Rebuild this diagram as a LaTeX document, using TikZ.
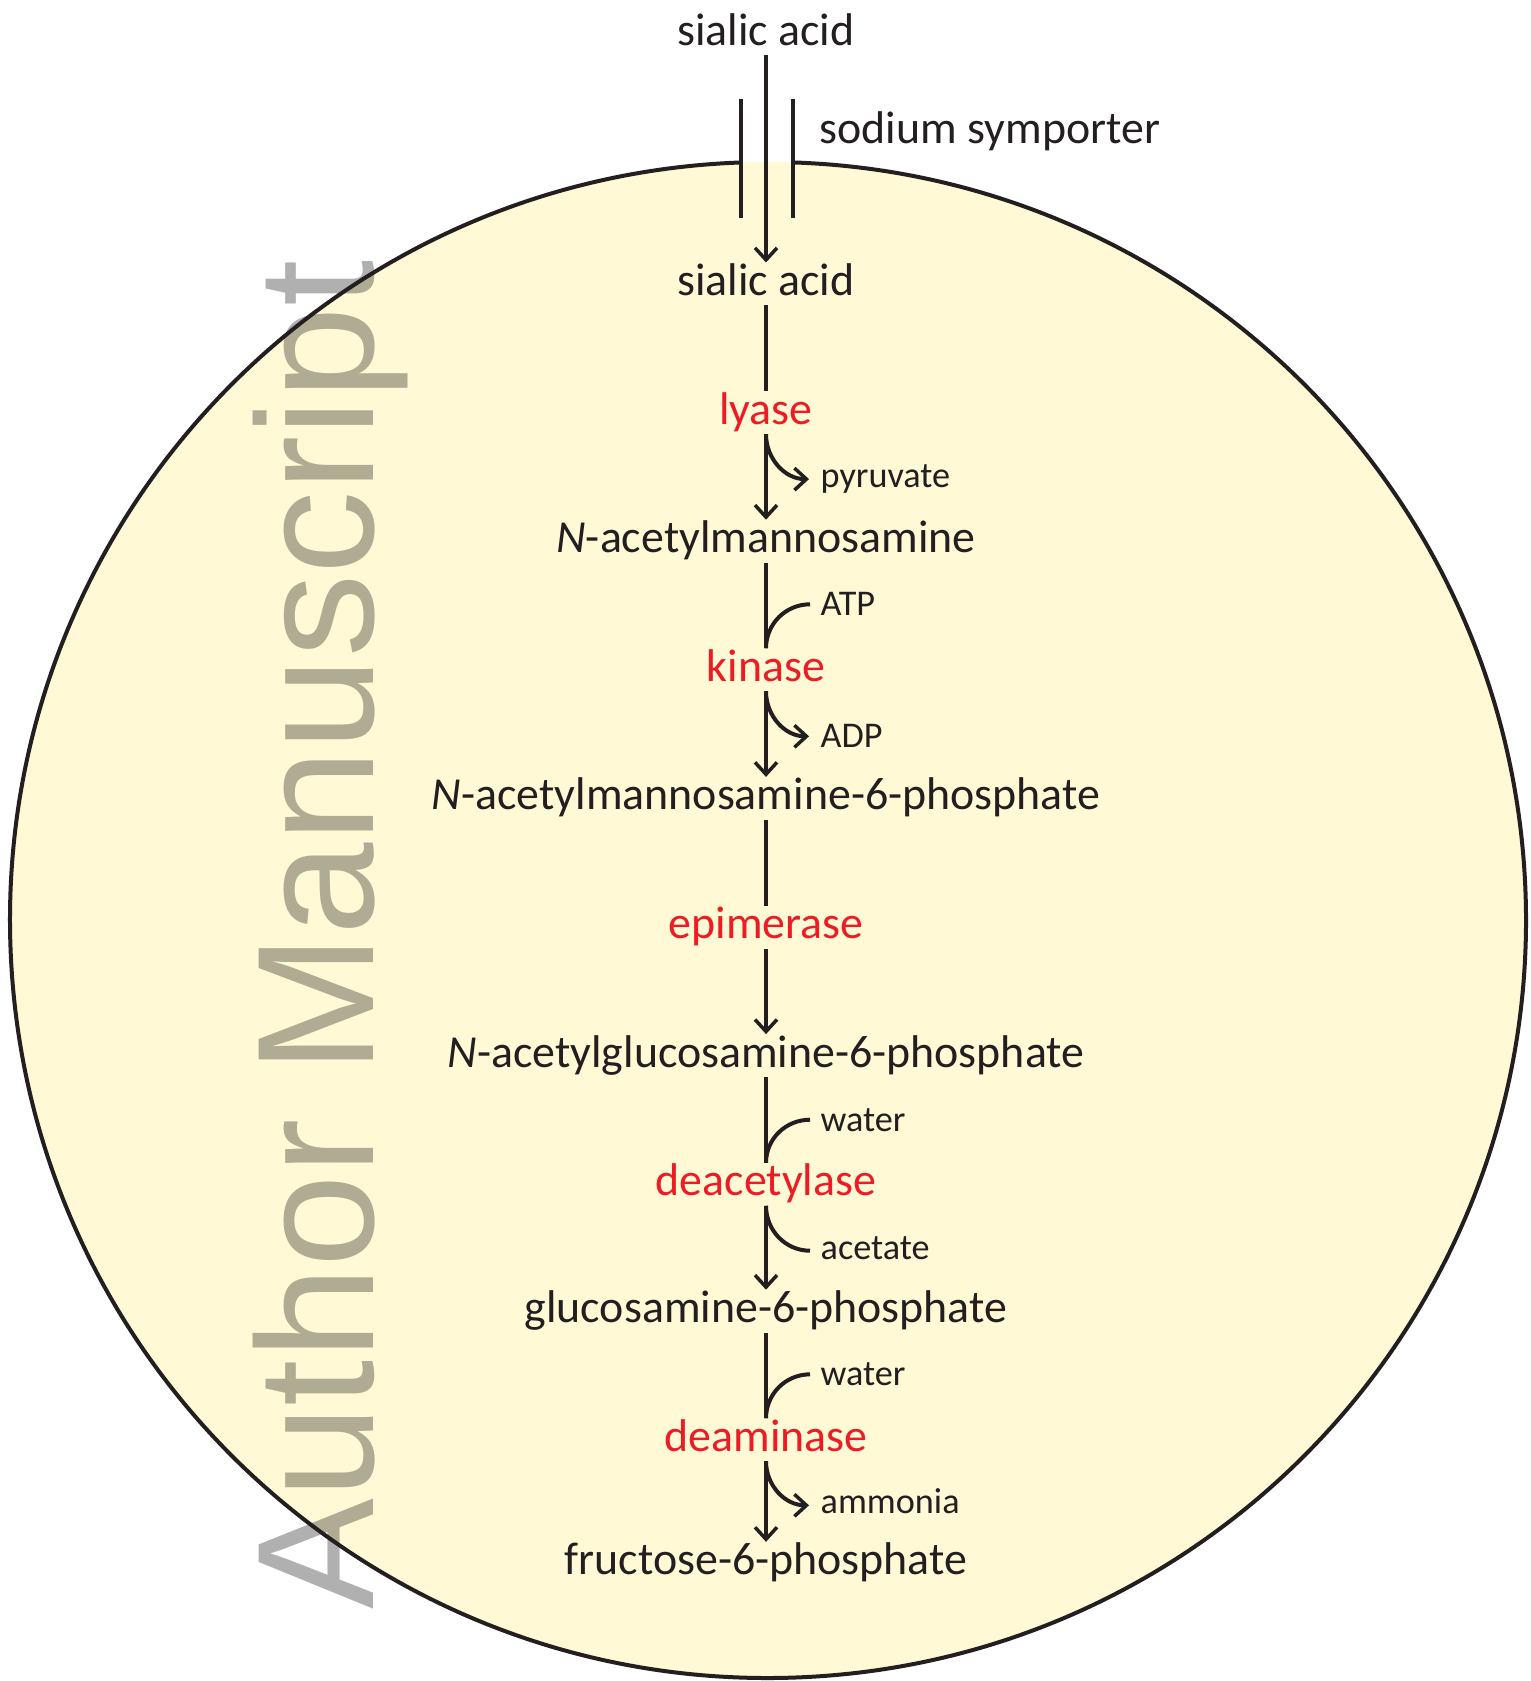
\documentclass[tikz,border=0pt]{standalone}
\usepackage{fontspec}
\setmainfont{Carlito}
\newfontfamily\wmfont{Liberation Sans}
\usepackage{xcolor}
\usepackage{tikz}
\usetikzlibrary{positioning, arrows.meta}
\definecolor{ink}{HTML}{231F20}
\definecolor{enzred}{HTML}{ED1C24}
\definecolor{cellfill}{HTML}{FFF9D6}
\newcommand\mainsize{\fontsize{13.05pt}{15pt}\selectfont}
\newcommand\smallsize{\fontsize{10.3pt}{12pt}\selectfont}

\begin{document}
\begin{tikzpicture}[every node/.style={font=\mainsize, text=ink},
  met/.style={inner sep=0pt, outer sep=0pt, text height=0.33cm, text depth=0.10cm},
  enz/.style={met, text=enzred},
  side/.style={font=\smallsize, inner sep=0pt, anchor=mid west},
  link/.style={line width=0.04cm, ink},
  arr/.style={link, -{Straight Barb[length=0.12cm, width=0.22cm, line width=0.035cm]}}
]
  \useasboundingbox (0,0) rectangle (15.31,-16.81);

  % Cell
  \fill[cellfill] (7.68,-9.20) circle (7.58);
  % Watermark
  \node[font=\wmfont\fontsize{47.3pt}{50pt}\selectfont, text=black, text opacity=0.31,
    rotate=90, anchor=base west, inner sep=0pt] (wm) at (3.73,-16.10) {Author Manuscript};
  \draw[link] (7.68,-9.20) ++(92.0:7.58) arc[start angle=92.0, end angle=448.2, radius=7.58];

  % Transporter
  \draw[link] (7.41,-0.99) -- (7.41,-2.18);
  \draw[link] (7.93,-0.99) -- (7.93,-2.18);
  \node[anchor=base west, inner sep=0pt] (sym) at (8.19,-1.437) {sodium symporter};

  % Pathway column
  \node[met, anchor=base] (topsia) at (7.66,-0.453) {sialic acid};
  \node[met, below=2.072cm of topsia] (sia) {sialic acid};
  \node[enz, below=0.856cm of sia] (lyase) {lyase};
  \node[met, below=0.856cm of lyase] (manNAc) {\textit{N}-acetylmannosamine};
  \node[enz, below=0.856cm of manNAc] (kinase) {kinase};
  \node[met, below=0.856cm of kinase] (manNAc6P) {\textit{N}-acetylmannosamine-6-phosphate};
  \node[enz, below=0.856cm of manNAc6P] (epim) {epimerase};
  \node[met, below=0.856cm of epim] (glcNAc6P) {\textit{N}-acetylglucosamine-6-phosphate};
  \node[enz, below=0.856cm of glcNAc6P] (deacet) {deacetylase};
  \node[met, below=0.840cm of deacet] (glcN6P) {glucosamine-6-phosphate};
  \node[enz, below=0.856cm of glcN6P] (deam) {deaminase};
  \node[met, below=0.805cm of deam] (fru6P) {fructose-6-phosphate};

  % Main arrows
  \draw[arr] (topsia) -- (sia);
  \draw[link] (sia) -- (lyase);
  \draw[arr] (lyase) -- (manNAc);
  \draw[link] (manNAc) -- (kinase);
  \draw[arr] (kinase) -- (manNAc6P);
  \draw[link] (manNAc6P) -- (epim);
  \draw[arr] (epim) -- (glcNAc6P);
  \draw[link] (glcNAc6P) -- (deacet);
  \draw[arr] (deacet) -- (glcN6P);
  \draw[link] (glcN6P) -- (deam);
  \draw[arr] (deam) -- (fru6P);

  % Side substrates and products
  \coordinate[below right=0.45cm and 0.43cm of lyase.south] (pyr);
  \coordinate[above right=0.44cm and 0.44cm of kinase.north] (atp);
  \coordinate[below right=0.45cm and 0.43cm of kinase.south] (adp);
  \coordinate[above right=0.43cm and 0.44cm of deacet.north] (wat1);
  \coordinate[below right=0.45cm and 0.44cm of deacet.south] (acet);
  \coordinate[above right=0.44cm and 0.44cm of deam.north] (wat2);
  \coordinate[below right=0.44cm and 0.43cm of deam.south] (nh3);

  \draw[arr] (lyase.south) to[out=-90, in=180] (pyr);
  \draw[link] (atp) to[out=180, in=90] (kinase.north);
  \draw[arr] (kinase.south) to[out=-90, in=180] (adp);
  \draw[link] (wat1) to[out=180, in=90] (deacet.north);
  \draw[link] (deacet.south) to[out=-90, in=180] (acet);
  \draw[link] (wat2) to[out=180, in=90] (deam.north);
  \draw[arr] (deam.south) to[out=-90, in=180] (nh3);

  \node[side, right=0.11cm of pyr, anchor=mid west] (pyrt) {pyruvate};
  \node[side, right=0.10cm of atp, anchor=mid west, yshift=-0.03cm] (atpt) {ATP};
  \node[side, right=0.11cm of adp, anchor=mid west, yshift=-0.03cm] (adpt) {ADP};
  \node[side, right=0.10cm of wat1, anchor=mid west, yshift=-0.03cm] (wat1t) {water};
  \node[side, right=0.10cm of acet, anchor=mid west] (acett) {acetate};
  \node[side, right=0.10cm of wat2, anchor=mid west, yshift=-0.03cm] (wat2t) {water};
  \node[side, right=0.11cm of nh3, anchor=mid west] (nh3t) {ammonia};
\end{tikzpicture}
\end{document}
